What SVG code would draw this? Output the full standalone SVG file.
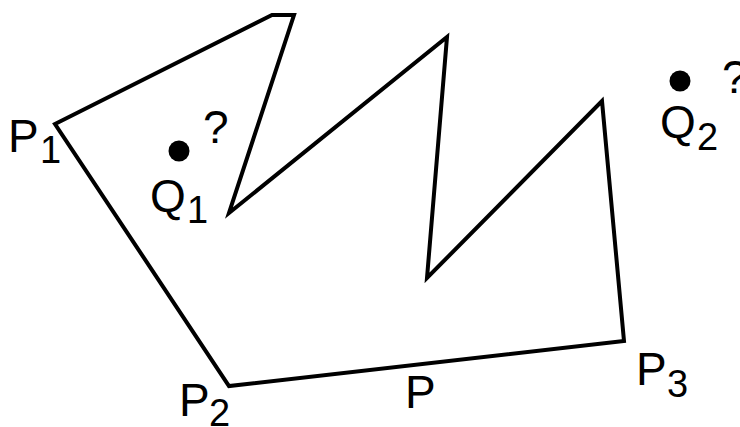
<svg xmlns="http://www.w3.org/2000/svg" width="740" height="427" viewBox="0 0 740 427">
<style>
.t{font-family:"Liberation Sans",Arial,sans-serif;font-size:46px;fill:#000}
.s{font-family:"Liberation Sans",Arial,sans-serif;font-size:38px;fill:#000}
.poly{fill:none;stroke:#000;stroke-width:4;stroke-linejoin:miter}
</style>
<rect width="740" height="427" fill="#fff"/>
<g id="polygon">
<polygon class="poly" points="55,124 272,15 294,15 229,213 447,37 427,278 602,101 624,341 229,386"/>
</g>
<g id="P1"><text class="t" x="8" y="152">P</text><text class="s" x="40" y="163">1</text></g>
<g id="P2"><text class="t" x="179" y="416">P</text><text class="s" x="209" y="426">2</text></g>
<g id="P3"><text class="t" x="636" y="385">P</text><text class="s" x="667" y="397">3</text></g>
<g id="P"><text class="t" x="405" y="408">P</text></g>
<g id="Q1"><circle cx="179" cy="151" r="10.5" fill="#000"/><text class="t" x="203" y="143">?</text><text class="t" x="150" y="212">Q</text><text class="s" x="187" y="223">1</text></g>
<g id="Q2"><circle cx="680" cy="81" r="10.5" fill="#000"/><text class="t" x="722" y="93">?</text><text class="t" x="660" y="138">Q</text><text class="s" x="697" y="150">2</text></g>
</svg>
